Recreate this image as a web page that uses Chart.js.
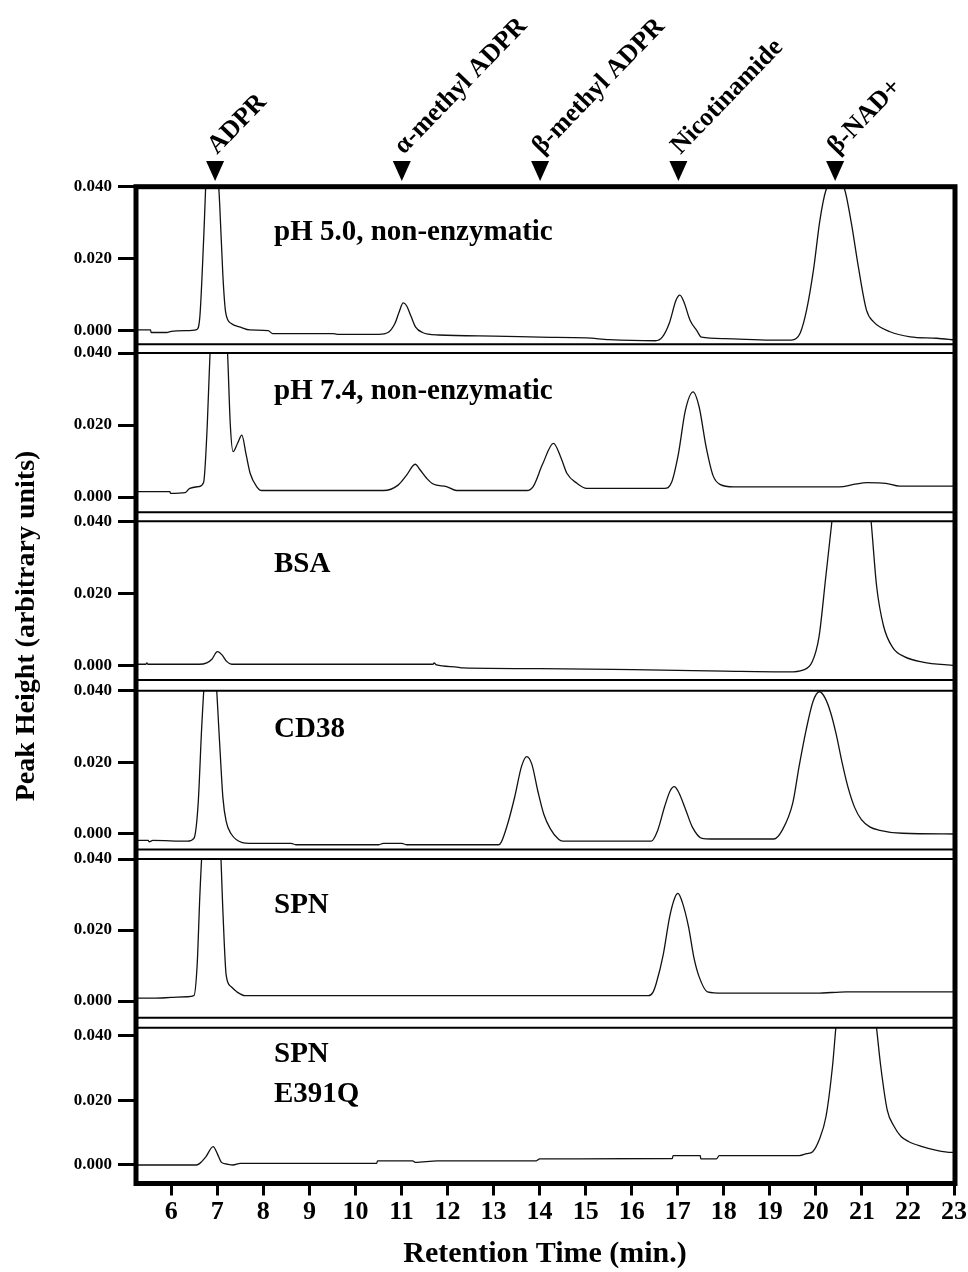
<!DOCTYPE html>
<html><head><meta charset="utf-8">
<script src="https://cdn.jsdelivr.net/npm/chart.js@4.4.1/dist/chart.umd.min.js"></script>
<style>
html,body{margin:0;padding:0;background:#fff;}
#wrap{position:relative;width:968px;height:1272px;overflow:hidden;background:#fff;}
#wrap canvas{position:absolute;left:0;top:0;}
</style></head><body><div id="wrap"></div>
<script>
// ---------- data ----------
const xTicks = [6,7,8,9,10,11,12,13,14,15,16,17,18,19,20,21,22,23];
const yTicks = [0.000, 0.020, 0.040];
const xTitle = "Retention Time (min.)";
const yTitle = "Peak Height (arbitrary units)";
const markerNames = ["ADPR", "\u03b1-methyl ADPR", "\u03b2-methyl ADPR", "Nicotinamide", "\u03b2-NAD+"];
const markerTimes = [6.95, 11.0, 14.0, 17.0, 20.4];
const panelLabels = [["pH 5.0, non-enzymatic"], ["pH 7.4, non-enzymatic"], ["BSA"], ["CD38"], ["SPN"], ["SPN", "E391Q"]];

const tracePH50 = [[5.25,0.0002],[5.55,0.0002],[5.56,-0.0005],[5.9,-0.0005],[6.0,-0.0002],[6.3,0.0],[6.55,0.0003],[6.62,0.004],[6.7,0.025],[6.78,0.05],[6.88,0.062],[6.98,0.05],[7.05,0.035],[7.12,0.015],[7.18,0.005],[7.3,0.002],[7.5,0.001],[7.7,0.0002],[8.1,0.0],[8.2,-0.0008],[9.5,-0.0008],[9.6,-0.001],[10.5,-0.001],[10.7,-0.0005],[10.85,0.002],[10.95,0.0055],[11.03,0.0077],[11.1,0.007],[11.2,0.004],[11.3,0.001],[11.45,-0.0005],[11.8,-0.0012],[13,-0.0015],[14,-0.0018],[15,-0.002],[15.5,-0.0025],[16.5,-0.0028],[16.65,-0.0018],[16.8,0.002],[16.95,0.0085],[17.03,0.0099],[17.12,0.008],[17.25,0.003],[17.4,0.0],[17.5,-0.0018],[18,-0.0022],[19,-0.0026],[19.45,-0.0026],[19.64,-0.0007],[19.78,0.0057],[19.93,0.0169],[20.07,0.0307],[20.2,0.039],[20.4,0.042],[20.6,0.0395],[20.75,0.03],[20.9,0.018],[21.08,0.0057],[21.23,0.0025],[21.59,-0.0003],[22.03,-0.0017],[22.6,-0.0021],[23,-0.0026]];

const tracePH74 = [[5.25,0.0015],[5.97,0.0015],[5.98,0.001],[6.3,0.0012],[6.4,0.0024],[6.6,0.0029],[6.7,0.004],[6.78,0.02],[6.84,0.04],[6.95,0.062],[7.03,0.066],[7.12,0.06],[7.22,0.04],[7.28,0.02],[7.34,0.0126],[7.44,0.015],[7.53,0.0172],[7.62,0.012],[7.71,0.0066],[7.85,0.0029],[7.96,0.0018],[10.6,0.0018],[10.92,0.0033],[11.1,0.006],[11.29,0.0091],[11.4,0.0075],[11.54,0.0052],[11.68,0.0036],[11.97,0.0029],[12.19,0.0018],[13.71,0.0018],[13.85,0.0029],[14.05,0.009],[14.29,0.0149],[14.45,0.011],[14.58,0.0066],[14.8,0.0038],[15.01,0.0024],[16.7,0.0024],[16.85,0.004],[17.0,0.012],[17.15,0.024],[17.32,0.0292],[17.45,0.025],[17.6,0.014],[17.75,0.006],[17.9,0.0035],[18.2,0.0028],[20.5,0.0028],[20.8,0.0035],[21.1,0.004],[21.5,0.0038],[21.8,0.003],[23,0.003]];

const traceBSA = [[5.25,0.0004],[5.45,0.0004],[5.47,0.0008],[5.49,0.0004],[6.6,0.0004],[6.77,0.0008],[6.88,0.0018],[7.0,0.0039],[7.1,0.003],[7.2,0.0012],[7.31,0.0004],[11.68,0.0004],[11.7,0.0008],[11.75,0.0002],[12.15,-0.0003],[12.33,-0.0006],[14,-0.0008],[16,-0.0011],[18,-0.0015],[19.4,-0.0017],[19.7,-0.0012],[19.9,0.001],[20.05,0.008],[20.2,0.025],[20.33,0.04],[20.5,0.062],[20.75,0.075],[21.0,0.062],[21.18,0.04],[21.3,0.022],[21.45,0.011],[21.65,0.005],[21.9,0.0025],[22.3,0.001],[23,0.0]];

const traceCD38 = [[5.25,-0.0018],[5.5,-0.0018],[5.52,-0.0022],[5.6,-0.0018],[6.35,-0.002],[6.49,-0.0012],[6.58,0.008],[6.66,0.03],[6.73,0.045],[6.85,0.058],[6.96,0.045],[7.05,0.025],[7.12,0.01],[7.19,0.0035],[7.3,0.0],[7.54,-0.0024],[7.7,-0.0026],[8.6,-0.0026],[8.7,-0.003],[10.5,-0.003],[10.6,-0.0026],[11.0,-0.0026],[11.1,-0.003],[13.1,-0.003],[13.16,-0.0022],[13.3,0.003],[13.45,0.0104],[13.6,0.019],[13.71,0.0216],[13.82,0.0195],[13.95,0.012],[14.08,0.0055],[14.22,0.0015],[14.4,-0.0015],[14.49,-0.002],[16.41,-0.002],[16.55,0.001],[16.7,0.0076],[16.82,0.012],[16.91,0.0132],[17.0,0.0118],[17.16,0.0067],[17.3,0.002],[17.51,-0.0012],[17.7,-0.0014],[19.07,-0.0014],[19.25,0.001],[19.48,0.0086],[19.62,0.019],[19.77,0.029],[19.92,0.037],[20.06,0.0397],[20.18,0.038],[20.3,0.034],[20.42,0.028],[20.55,0.02],[20.68,0.013],[20.82,0.0075],[20.97,0.004],[21.15,0.002],[21.34,0.0011],[21.86,0.0002],[23,0.0]];

const traceSPN = [[5.25,0.0008],[5.6,0.0008],[6.0,0.001],[6.35,0.0012],[6.49,0.0015],[6.56,0.01],[6.62,0.03],[6.68,0.045],[6.88,0.062],[7.06,0.045],[7.12,0.025],[7.19,0.0073],[7.3,0.004],[7.42,0.0026],[7.6,0.0015],[16.35,0.0015],[16.45,0.0025],[16.52,0.005],[16.67,0.013],[16.81,0.0237],[16.92,0.029],[16.99,0.0303],[17.08,0.028],[17.22,0.0209],[17.34,0.012],[17.45,0.0068],[17.63,0.0026],[17.97,0.0022],[20.0,0.0022],[20.64,0.0026],[23,0.0026]];

const traceE391Q = [[5.25,0.0],[6.55,0.0],[6.62,0.0005],[6.75,0.0025],[6.91,0.0057],[7.0,0.0035],[7.09,0.0008],[7.2,0.0003],[7.34,0.0],[7.5,0.0005],[10.46,0.0005],[10.48,0.0013],[11.24,0.0013],[11.3,0.0008],[11.78,0.0013],[13.93,0.0013],[14.0,0.0019],[16.88,0.002],[16.9,0.0029],[17.49,0.0029],[17.5,0.0019],[17.84,0.0019],[17.9,0.0029],[19.64,0.0029],[19.8,0.0035],[19.93,0.0041],[20.07,0.0077],[20.22,0.015],[20.36,0.0304],[20.45,0.045],[20.6,0.062],[20.87,0.068],[21.1,0.062],[21.28,0.047],[21.41,0.0304],[21.55,0.017],[21.7,0.0119],[21.85,0.0088],[22.02,0.0072],[22.31,0.0057],[22.6,0.0046],[22.95,0.0039],[23,0.0039]];

const traces = [tracePH50, tracePH74, traceBSA, traceCD38, traceSPN, traceE391Q];

// ---------- layout (page pixels) ----------
const W = 968, H = 1272;
const xMin = 5.234, xMax = 23.0;
const plotLeft = 136, plotRight = 955;
const panelTop = [186.7, 353, 521.3, 690.7, 859, 1027.7];
const panelBottom = [344.3, 512.3, 680, 849.5, 1017.7, 1183.5];
const yMaxs = [0.040, 0.040, 0.040, 0.040, 0.040, 0.04248];
const yMins = [-0.00378, -0.00425, -0.00396, -0.00433, -0.0047, -0.00573];
const labelX = 274;
const labelBase = [[240], [399], [572], [737], [913], [1062, 1102]];
const SERIF = "'Liberation Serif', 'DejaVu Serif', serif";

const wrap = document.getElementById('wrap');

const separatorPlugin = {
  id: 'sep',
  afterDatasetsDraw(chart, args, opts) {
    const {ctx, chartArea: a} = chart;
    ctx.save();
    ctx.strokeStyle = '#000';
    ctx.lineWidth = 2;
    ctx.beginPath();
    ctx.moveTo(a.left, a.top); ctx.lineTo(a.right, a.top);
    ctx.moveTo(a.left, a.bottom); ctx.lineTo(a.right, a.bottom);
    ctx.stroke();
    ctx.fillStyle = '#000';
    ctx.font = "bold 29px " + SERIF;
    ctx.textAlign = 'left';
    ctx.textBaseline = 'alphabetic';
    const i = opts.index;
    panelLabels[i].forEach((t, k) => ctx.fillText(t, labelX, labelBase[i][k]));
    ctx.restore();
  }
};

const headerPlugin = {
  id: 'header',
  afterDraw(chart) {
    const ctx = chart.ctx;
    const xs = chart.scales.x;
    ctx.save();
    ctx.fillStyle = '#000';
    markerTimes.forEach((t, k) => {
      const px = xs.getPixelForValue(t);
      ctx.beginPath();
      ctx.moveTo(px - 9, 161);
      ctx.lineTo(px + 9, 161);
      ctx.lineTo(px, 181);
      ctx.closePath();
      ctx.fill();
      ctx.save();
      ctx.translate(px + 2, 155);
      ctx.rotate(-46 * Math.PI / 180);
      ctx.font = "bold 26px " + SERIF;
      ctx.textAlign = 'left';
      ctx.textBaseline = 'alphabetic';
      ctx.fillText(markerNames[k], 0, 0);
      ctx.restore();
    });
    ctx.save();
    ctx.translate(27, 626);
    ctx.rotate(-Math.PI / 2);
    ctx.font = "bold 28px " + SERIF;
    ctx.textAlign = 'center';
    ctx.textBaseline = 'middle';
    ctx.fillText(yTitle, 0, 0);
    ctx.restore();
    ctx.restore();
  }
};

const framePlugin = {
  id: 'frame',
  afterDraw(chart) {
    const ctx = chart.ctx;
    ctx.save();
    ctx.strokeStyle = '#000';
    ctx.lineWidth = 5;
    ctx.strokeRect(plotLeft, panelTop[0], plotRight - plotLeft, panelBottom[5] - panelTop[0]);
    ctx.restore();
  }
};

function makePanel(i) {
  const isLast = i === traces.length - 1;
  const cv = document.createElement('canvas');
  cv.width = W; cv.height = H;
  cv.style.width = W + 'px'; cv.style.height = H + 'px';
  wrap.appendChild(cv);
  const plugins = [separatorPlugin];
  if (i === 0) plugins.push(headerPlugin);
  if (isLast) plugins.push(framePlugin);
  return new Chart(cv, {
    type: 'line',
    data: {
      datasets: [{
        data: traces[i].map(p => ({x: p[0], y: p[1]})),
        borderColor: '#111',
        borderWidth: 1.3,
        pointRadius: 0,
        cubicInterpolationMode: 'monotone',
        fill: false,
        clip: 0
      }]
    },
    options: {
      responsive: false,
      animation: false,
      devicePixelRatio: 1,
      events: [],
      layout: {
        autoPadding: false,
        padding: {top: panelTop[i], bottom: isLast ? 0 : H - panelBottom[i], left: 0, right: W - plotRight}
      },
      plugins: {legend: {display: false}, tooltip: {enabled: false}, sep: {index: i}},
      scales: {
        x: {
          type: 'linear', min: xMin, max: xMax, display: isLast,
          afterBuildTicks: s => { s.ticks = xTicks.map(v => ({value: v})); },
          afterFit: s => { s.height = isLast ? H - panelBottom[i] : 0; },
          grid: {drawOnChartArea: false, drawTicks: true, tickLength: 12, tickWidth: 3, tickColor: '#000'},
          border: {display: false},
          ticks: {color: '#000', padding: 1, maxRotation: 0, autoSkip: false,
                  font: {family: SERIF, weight: 'bold', size: 26}},
          title: {display: true, text: xTitle, color: '#000', padding: 0,
                  font: {family: SERIF, weight: 'bold', size: 30}}
        },
        y: {
          type: 'linear', min: yMins[i], max: yMaxs[i],
          afterBuildTicks: s => { s.ticks = yTicks.map(v => ({value: v})); },
          afterFit: s => { s.width = plotLeft; },
          grid: {drawOnChartArea: false, drawTicks: true, tickLength: 18, tickWidth: 3, tickColor: '#000'},
          border: {display: false},
          ticks: {color: '#000', padding: 6, callback: v => Number(v).toFixed(3),
                  font: {family: SERIF, weight: 'bold', size: 17}}
        }
      }
    },
    plugins: plugins
  });
}

traces.forEach((t, i) => makePanel(i));
</script>
</body></html>
